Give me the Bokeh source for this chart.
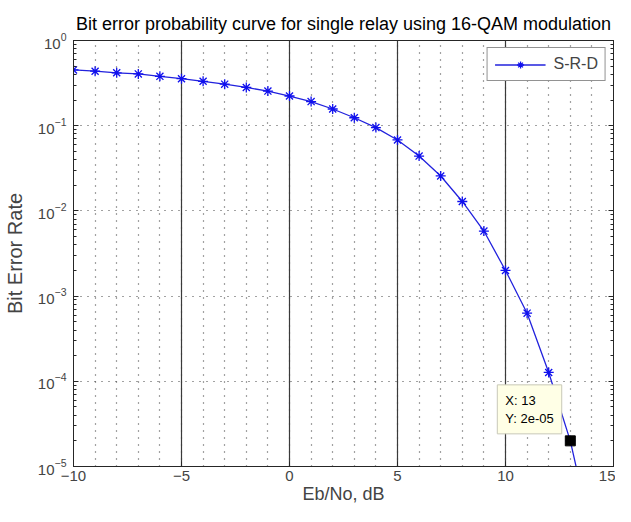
from bokeh.plotting import figure
from bokeh.models import (LogAxis, Legend, LegendItem, Label, FixedTicker,
                          LogTicker, CustomJSTickFormatter, Range1d)
from bokeh.embed import file_html
from bokeh.resources import INLINE

# ---- data ----
ebno_db = [-10, -9, -8, -7, -6, -5, -4, -3, -2, -1, 0, 1, 2, 3, 4, 5, 6, 7,
           8, 9, 10, 11, 12, 13, 14]
ber_srd = [0.452, 0.436, 0.418, 0.405, 0.380, 0.356, 0.332, 0.307, 0.281,
           0.255, 0.223, 0.192, 0.157, 0.124, 0.095, 0.068, 0.044, 0.0257,
           0.0129, 0.0058, 0.0020, 0.00063, 0.000127, 0.00002, 0.0000015]
series_name = "S-R-D"
tip_x = [13]
tip_y = [2e-05]
tip_text = "X: 13\nY: 2e-05"
x_ticks = [-10, -5, 0, 5, 10, 15]

FONT = "Liberation Sans"
DARK = "#262626"

p = figure(width=615, height=506, y_axis_type="log",
           x_range=Range1d(-10, 15), y_range=Range1d(1e-5, 1),
           output_backend="svg", toolbar_location=None,
           min_border_left=72, min_border_right=2, min_border_top=40,
           min_border_bottom=38)

p.title.text = "Bit error probability curve for single relay using 16-QAM modulation"
p.title.align = "center"
p.title.text_font = FONT
p.title.text_font_size = "18px"
p.title.text_font_style = "normal"
p.title.text_color = "black"
p.title.standoff = 14

p.outline_line_color = DARK
p.outline_line_width = 1
p.background_fill_color = "white"
p.border_fill_color = "white"

# x axis
xa = p.xaxis[0]
xa.ticker = FixedTicker(ticks=x_ticks, minor_ticks=list(range(-10, 16)))
xa.axis_label = "Eb/No, dB"
xa.axis_label_text_font = FONT
xa.axis_label_text_font_size = "18px"
xa.axis_label_text_font_style = "normal"
xa.axis_label_standoff = 0
xa.major_label_text_font = FONT
xa.major_label_text_font_size = "15px"
xa.major_label_standoff = 4
xa.major_tick_in = 5
xa.major_tick_out = 0
xa.minor_tick_in = 0
xa.minor_tick_out = 0
xa.axis_line_color = DARK
xa.major_tick_line_color = DARK

# y axis
ya = p.yaxis[0]
ya.ticker = LogTicker(desired_num_ticks=6, num_minor_ticks=10)
ya.axis_label = "Bit Error Rate"
ya.axis_label_text_font = FONT
ya.axis_label_text_font_size = "20px"
ya.axis_label_text_font_style = "normal"
ya.axis_label_standoff = 9
ya.major_label_text_font = FONT
ya.major_label_text_font_size = "15px"
ya.major_label_standoff = 7
ya.major_tick_in = 5
ya.major_tick_out = 0
ya.minor_tick_in = 3
ya.minor_tick_out = 0
ya.axis_line_color = DARK
ya.major_tick_line_color = DARK
ya.minor_tick_line_color = DARK

# mirrored right axis (ticks only)
ra = LogAxis(ticker=LogTicker(desired_num_ticks=6, num_minor_ticks=10),
             formatter=CustomJSTickFormatter(code="return ''"))
ra.major_label_standoff = 0
ra.major_label_text_font_size = "1px"
ra.major_tick_in = 5
ra.major_tick_out = 0
ra.minor_tick_in = 3
ra.minor_tick_out = 0
ra.axis_line_color = DARK
ra.major_tick_line_color = DARK
ra.minor_tick_line_color = DARK
p.add_layout(ra, "right")

# grids
p.xgrid.grid_line_color = "#3a3a3a"
p.xgrid.grid_line_width = 1.2
p.xgrid.minor_grid_line_color = "#444444"
p.xgrid.minor_grid_line_dash = "1 6"
p.xgrid.minor_grid_line_width = 1.2
p.ygrid.grid_line_color = "#444444"
p.ygrid.grid_line_dash = "1 6"
p.ygrid.grid_line_width = 1.2
p.ygrid.minor_grid_line_color = None

# data
line_r = p.line(ebno_db, ber_srd, line_color="#2222dd", line_width=1.3)
mark_r = p.scatter(ebno_db, ber_srd, marker="asterisk", size=10,
                   line_color="#1010ee", line_width=1.3)

# data tip
p.scatter(tip_x, tip_y, marker="square", size=10, fill_color="black",
          line_color="black")
tip = Label(x=tip_x[0], y=tip_y[0], x_offset=-73, y_offset=7,
            text=tip_text, anchor="bottom_left",
            text_font=FONT, text_font_size="13px", text_color="black",
            background_fill_color="#ffffe6", background_fill_alpha=1.0,
            border_line_color="#c8c8b8", border_line_width=1,
            padding=8)
p.add_layout(tip)

# legend
legend = Legend(items=[LegendItem(label=series_name,
                                  renderers=[line_r, mark_r])],
                location="top_right", padding=7, margin=7,
                glyph_width=51, glyph_height=17, label_height=17,
                label_standoff=8,
                label_text_font=FONT, label_text_font_size="16px",
                border_line_color=DARK, border_line_width=1,
                background_fill_color="white", background_fill_alpha=1.0)
p.add_layout(legend, "center")

open("out.html", "w").write(file_html(p, INLINE))
